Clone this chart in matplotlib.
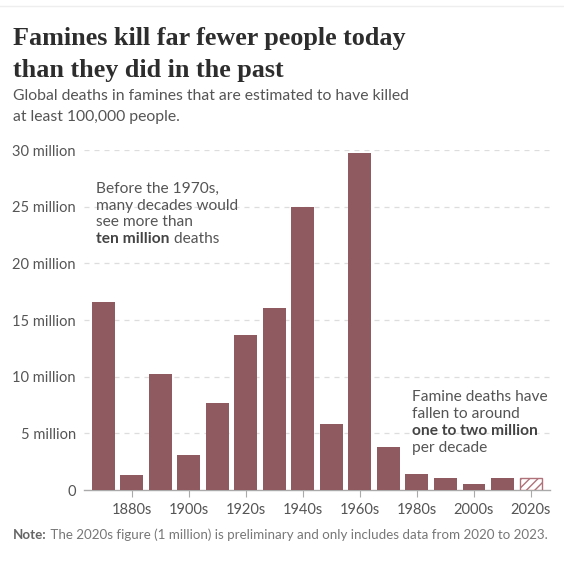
import matplotlib
matplotlib.use("Agg")
import matplotlib.pyplot as plt
import numpy as np

decades = ['1870s', '1880s', '1890s', '1900s', '1910s', '1920s', '1930s', '1940s',
           '1950s', '1960s', '1970s', '1980s', '1990s', '2000s', '2010s', '2020s']
deaths_million = [16.6, 1.3, 10.2, 3.1, 7.7, 13.7, 16.1, 25.0,
                  5.8, 29.7, 3.8, 1.4, 1.05, 0.55, 1.1, 1.05]
yticks = [0, 5, 10, 15, 20, 25, 30]
ytick_labels = ['0', '5 million', '10 million', '15 million', '20 million',
                '25 million', '30 million']

W, H = 564, 576
BAR = '#8f5b61'
HATCH = '#b0727a'

plt.rcParams['font.family'] = ['Lato', 'DejaVu Sans']
plt.rcParams['hatch.linewidth'] = 1.0

fig = plt.figure(figsize=(W / 100, H / 100), dpi=100)
fig.patch.set_facecolor('white')

def fx(px):
    return px / W

def fy(py):
    return 1 - py / H

ax = fig.add_axes([fx(84), fy(490), fx(550) - fx(84), fy(150) - fy(490)])

x = np.arange(len(decades))
ax.bar(x[:-1], deaths_million[:-1], width=0.8, color=BAR, zorder=3)
# 2020s is preliminary -> hatched
ax.bar(x[-1], deaths_million[-1], width=0.8, facecolor='white', edgecolor=HATCH,
       hatch='////', linewidth=1.0, zorder=3)

ax.set_xlim(-0.68, 15.67)
ax.set_ylim(0, 30)

ax.set_yticks(yticks)
ax.set_yticklabels(ytick_labels)
for v in yticks[1:]:
    ax.axhline(v, color='#dddddd', linewidth=0.9, linestyle=(0, (4, 4)), zorder=1)

ax.set_xticks(x[1::2])
ax.set_xticklabels(decades[1::2])

for s in ['top', 'right', 'left']:
    ax.spines[s].set_visible(False)
ax.spines['bottom'].set_color('#aaaaaa')
ax.spines['bottom'].set_linewidth(1.0)
ax.tick_params(axis='y', length=0, pad=6, labelsize=10.5, labelcolor='#555555')
ax.tick_params(axis='x', length=5, width=0.8, color='#aaaaaa', pad=4,
               labelsize=10.5, labelcolor='#555555')
ax.set_facecolor('none')

# thin line at the very top
fig.add_artist(plt.Line2D([0, 1], [fy(6), fy(6)], color='#eeeeee', linewidth=1))

# title and subtitle
fig.text(fx(13), fy(38), 'Famines kill far fewer people today', fontsize=18.8,
         family='Liberation Serif', weight='bold', color='#2d2d2d', va='center')
fig.text(fx(13), fy(70), 'than they did in the past', fontsize=18.8,
         family='Liberation Serif', weight='bold', color='#2d2d2d', va='center')
fig.text(fx(13), fy(96), 'Global deaths in famines that are estimated to have killed',
         fontsize=11.3, color='#555555', va='center')
fig.text(fx(13), fy(117), 'at least 100,000 people.', fontsize=11.3,
         color='#555555', va='center')

# annotations
FS = 11.2
left_lines = ['Before the 1970s,', 'many decades would', 'see more than']
for py, line in zip([189, 206, 222], left_lines):
    fig.text(fx(96), fy(py), line, fontsize=FS, color='#555555', va='center')
b1 = fig.text(fx(96), fy(239), 'ten million', fontsize=FS, weight='bold',
              color='#444444', va='center')
ax.annotate(' deaths', xy=(1, 0), xycoords=b1, va='bottom', ha='left',
            fontsize=FS, color='#555555')

right_lines = ['Famine deaths have', 'fallen to around']
for py, line in zip([397, 414], right_lines):
    fig.text(fx(412), fy(py), line, fontsize=FS, color='#555555', va='center')
fig.text(fx(412), fy(431), 'one to two million', fontsize=FS, weight='bold',
         color='#444444', va='center')
fig.text(fx(412), fy(448), 'per decade', fontsize=FS, color='#555555', va='center')

# footnote
n = fig.text(fx(13), fy(535), 'Note:', fontsize=9.6, weight='bold', color='#666666',
             va='center')
ax.annotate(' The 2020s figure (1 million) is preliminary and only includes data from 2020 to 2023.',
            xy=(1, 0), xycoords=n, va='bottom', ha='left', fontsize=9.6,
            color='#777777')

fig.savefig('out.png', dpi=100, facecolor='white')
